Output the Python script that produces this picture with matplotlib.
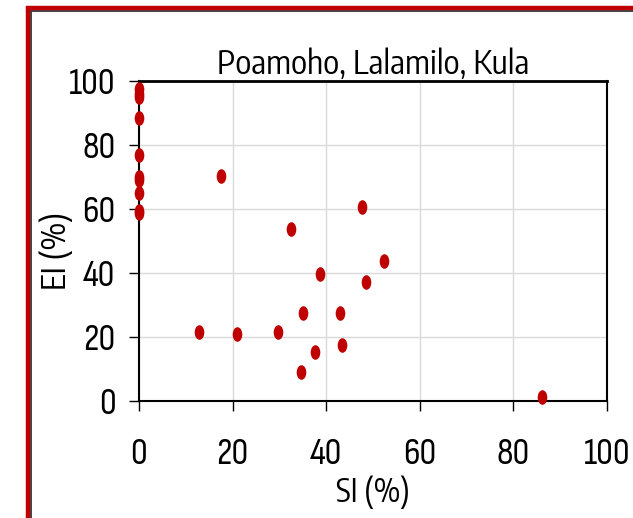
import numpy as np
import matplotlib
matplotlib.use("Agg")
import matplotlib.pyplot as plt
from matplotlib.path import Path
from matplotlib.patches import Rectangle
from matplotlib.transforms import Affine2D

tick_font = ['Sofia Sans Condensed', 'Carlito', 'DejaVu Sans']
text_font = ['Encode Sans Condensed', 'Carlito', 'DejaVu Sans']
plt.rcParams['font.family'] = tick_font

# SI (%) and EI (%)
si = [0, 0, 0, 0, 0, 0, 0, 0, 0, 0,
      17.5, 47.6, 32.5, 52.3, 38.6, 48.4, 35.0, 42.9,
      12.9, 21.0, 29.7, 43.4, 37.6, 34.6, 86.2]
ei = [97.5, 96.0, 95.0, 88.4, 76.9, 70.0, 69.0, 65.1, 58.8, 59.5,
      70.4, 60.7, 53.8, 43.8, 39.7, 37.2, 27.6, 27.6,
      21.7, 20.9, 21.7, 17.5, 15.4, 9.0, 1.3]
title = "Poamoho, Lalamilo, Kula"
ticks = [0, 20, 40, 60, 80, 100]

dark_red = "#c00000"

fig = plt.figure(figsize=(6.33, 5.18), dpi=100)

# red frame with thin dark inner edge (cut off at right/bottom)
W, H = 633, 518
shadow = Rectangle((31 / W, -0.05), 1.2, (H - 10.5) / H + 0.05,
                   transform=fig.transFigure, fill=False,
                   edgecolor="#222222", linewidth=1.2, zorder=0)
frame = Rectangle((28 / W, -0.05), 1.2, (H - 7.5) / H + 0.05,
                  transform=fig.transFigure, fill=False,
                  edgecolor=dark_red, linewidth=3.2, zorder=1)
fig.patches.extend([shadow, frame])

ax = fig.add_axes([139 / W, 1 - 401 / H, 468 / W, 320 / H])

# tall ellipse marker
ell = Path.unit_circle().transformed(Affine2D().scale(0.66, 1.0))
ax.plot(si, ei, linestyle='none', marker=ell, markersize=10.5,
        color=dark_red, markeredgewidth=0, zorder=3, clip_on=False)

ax.set_xlim(0, 100)
ax.set_ylim(0, 100)
ax.set_xticks(ticks)
ax.set_yticks(ticks)
ax.grid(True, color="#d9d9d9", linewidth=1)
ax.set_axisbelow(True)
for s in ax.spines.values():
    s.set_linewidth(1.5)
    s.set_color("black")
ax.spines['top'].set_linewidth(2)
ax.tick_params(axis='both', direction='out', length=7, width=1,
               labelsize=27)
ax.tick_params(axis='x', pad=20)
ax.tick_params(axis='y', pad=10)

ax.set_title(title, fontsize=24, pad=4, family=text_font)
ax.set_xlabel("SI (%)", fontsize=23, labelpad=3, family=text_font)
ax.set_ylabel("EI (%)", fontsize=24, family=text_font)
ax.yaxis.set_label_coords(-0.14, 0.47)

fig.savefig("out.png", dpi=100)
